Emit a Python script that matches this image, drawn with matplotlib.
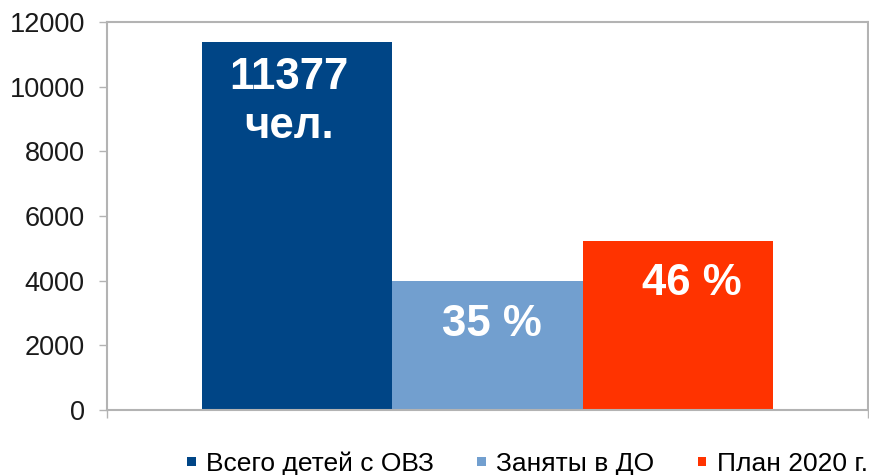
import matplotlib
matplotlib.use('Agg')
import matplotlib.pyplot as plt
from matplotlib.patches import Patch

plt.rcParams['font.family'] = ['Liberation Sans', 'DejaVu Sans']

# data
series = ['Всего детей с ОВЗ', 'Заняты в ДО', 'План 2020 г.']
values = [11377, 3982, 5233]
bar_labels = ['11377\nчел.', '35 %', '46 %']
colors = ['#004586', '#729FCF', '#FF3300']
yticks = [0, 2000, 4000, 6000, 8000, 10000, 12000]

fig = plt.figure(figsize=(8.69, 4.75), dpi=100)
ax = fig.add_axes([107 / 869, 1 - 410 / 475, 761 / 869, 388 / 475])

width = 0.25
positions = [-width, 0, width]
bars = ax.bar(positions, values, width=width, color=colors, zorder=2)

# labels inside bars (offsets in points)
label_offsets = [(-6, -43), (3, -31), (10, -30.5)]
for b, lab, off in zip(bars, bar_labels, label_offsets):
    ax.annotate(lab, (b.get_x() + b.get_width() / 2, b.get_height()),
                xytext=off, textcoords='offset points', ha='center', va='center',
                color='white', fontsize=31.5, fontweight='bold', linespacing=1.25)

ax.set_xlim(-0.5, 0.5)
ax.set_ylim(0, 12000)
ax.set_yticks(yticks)
ax.set_yticklabels([str(t) for t in yticks], fontsize=19.5, color='#1a1a1a')
ax.set_xticks([-0.5, 0.5])
ax.set_xticklabels(['', ''])
ax.tick_params(axis='y', direction='out', length=6, width=1, color='#b3b3b3', pad=10)
ax.tick_params(axis='x', direction='out', length=6, width=1, color='#b3b3b3')
for s in ax.spines.values():
    s.set_color('#b3b3b3')
    s.set_linewidth(1.5)

# square legend markers
handles = [Patch(facecolor=c, edgecolor='none') for c in colors]
fig.legend(handles, series, loc='center', bbox_to_anchor=(527.5 / 869, 1 - 464 / 475),
           ncol=3, frameon=False, fontsize=19, handlelength=0.34, handleheight=0.15,
           handletextpad=0.38, columnspacing=1.63)

fig.savefig('out.png', dpi=100)
